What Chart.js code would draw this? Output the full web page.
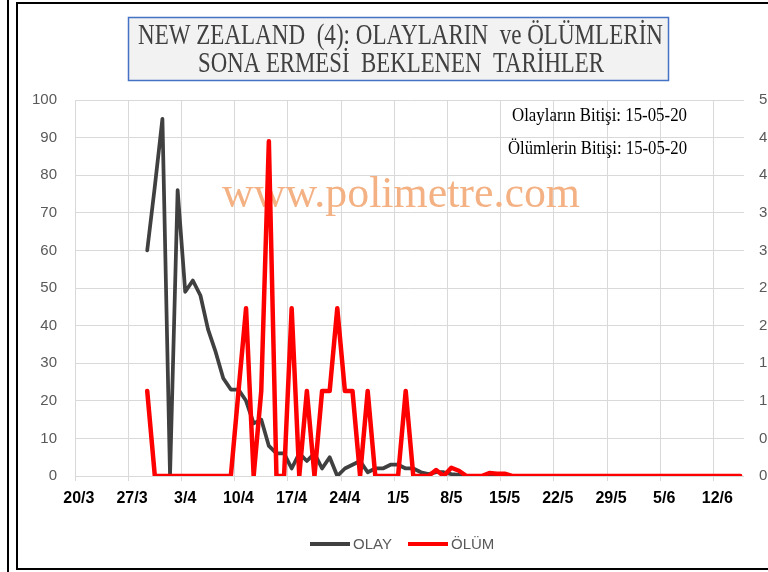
<!DOCTYPE html>
<html><head><meta charset="utf-8">
<script src="https://cdn.jsdelivr.net/npm/chart.js@4.4.1/dist/chart.umd.min.js"></script>
<style>
html,body{margin:0;padding:0;overflow:hidden;background:#fff;width:768px;height:572px}
#wrap{position:absolute;left:0;top:0;width:800px;height:572px}
</style></head><body><div id="wrap"><canvas id="c" width="800" height="572"></canvas></div>
<script>
// ---- DATA ----
const START_DATE = [2020, 2, 20];   // 20/3/2020
const DAY_COUNT = 88;               // 20/3 .. 15/6
const categories = [];
for (let i = 0; i < DAY_COUNT; i++) {
  const d = new Date(Date.UTC(START_DATE[0], START_DATE[1], START_DATE[2] + i));
  categories.push(d.getUTCDate() + '/' + (d.getUTCMonth() + 1));
}
const olay = [null,null,null,null,null,null,null,null,null,
  60,77,95,0,76,49,52,48,39,33,
  26,23,23,20,14,15,8,6,6,2,
  6,4,6,2,5,0,2,3,4,1,
  2,2,3,3,2,2,1,0.5,1,1,
  0.5,0.3,
  0,0,0,0,0,0,0,0,0,0,0,0,0,0,0,0,0,0,0,0,0,0,0,0,0,0,0,0,0,0,0,0,0,0,0,0,0];
const olum = [null,null,null,null,null,null,null,null,null,
  1.13,0,0,0,0,0,0,0,0,0,0,0,
  1.12,2.23,0,1.13,4.45,0,0,2.23,0,1.13,0,1.13,1.13,2.23,1.13,1.13,0,1.13,
  0,0,0,0,1.13,0,0,0,
  0.08,0,0.11,0.07,0,0,0,0.04,0.03,0.03,
  0,0,0,0,0,0,0,0,0,0,0,0,0,0,0,0,0,0,0,0,0,0,0,0,0,0,0,0,0,0,0];
const seriesNames = ['OLAY', 'ÖLÜM'];
const leftAxis = {min: 0, max: 100, step: 10};
const rightAxis = {min: 0, max: 5, step: 0.5};
const TICK_EVERY = 7;
const titleLines = ['NEW ZEALAND  (4): OLAYLARIN  ve ÖLÜMLERİN', 'SONA ERMESİ  BEKLENEN  TARİHLER'];
const notes = ['Olayların Bitişi: 15-05-20', 'Ölümlerin Bitişi: 15-05-20'];
const watermark = 'www.polimetre.com';

// ---- STYLE ----
const GRAY = '#404040', RED = '#ff0000', GRID = '#d9d9d9', TXT = '#595959';
const SANS = '"Liberation Sans", Arial, sans-serif';
const SERIF = '"Liberation Serif", "Times New Roman", serif';

function fitText(ctx, text, cx, baseY, width, font, color) {
  ctx.save();
  ctx.font = font;
  ctx.fillStyle = color;
  ctx.textBaseline = 'alphabetic';
  ctx.textAlign = 'left';
  const w = ctx.measureText(text).width;
  const s = width / w;
  ctx.translate(cx - width / 2, baseY);
  ctx.scale(s, 1);
  ctx.fillText(text, 0, 0);
  ctx.restore();
}

const decor = {
  id: 'decor',
  beforeDatasetsDraw(chart) {
    const ctx = chart.ctx;
    fitText(ctx, watermark, 401, 207, 358, '44px ' + SERIF, '#f4b183');
    fitText(ctx, notes[0], 599.5, 121, 175, '18px ' + SERIF, '#000');
    fitText(ctx, notes[1], 597.5, 154, 179, '18px ' + SERIF, '#000');
  },
  afterDraw(chart) {
    const ctx = chart.ctx;
    ctx.save();
    // title box
    ctx.fillStyle = '#f2f2f2';
    ctx.fillRect(128, 17, 540, 63);
    ctx.strokeStyle = '#4472c4';
    ctx.lineWidth = 1.5;
    ctx.strokeRect(128.5, 17.5, 540, 63);
    ctx.restore();
    fitText(ctx, titleLines[0], 400.5, 44, 525, '30px ' + SERIF, '#404040');
    fitText(ctx, titleLines[1], 401, 72, 406, '30px ' + SERIF, '#404040');
    // legend
    ctx.save();
    ctx.lineWidth = 4;
    ctx.strokeStyle = GRAY;
    ctx.beginPath(); ctx.moveTo(310, 544); ctx.lineTo(350, 544); ctx.stroke();
    ctx.strokeStyle = RED;
    ctx.beginPath(); ctx.moveTo(408, 544); ctx.lineTo(448, 544); ctx.stroke();
    ctx.font = '15px ' + SANS;
    ctx.fillStyle = TXT;
    ctx.textBaseline = 'middle';
    ctx.fillText(seriesNames[0], 353, 545);
    ctx.fillText(seriesNames[1], 451, 545);
    // frame
    ctx.strokeStyle = '#000';
    ctx.lineWidth = 2;
    ctx.beginPath(); ctx.moveTo(8, 0); ctx.lineTo(8, 572); ctx.stroke();
    ctx.strokeRect(17, 3, 800, 566);
    ctx.restore();
  }
};

new Chart(document.getElementById('c'), {
  type: 'line',
  data: {
    labels: categories,
    datasets: [
      {label: seriesNames[0], data: olay, borderColor: GRAY, backgroundColor: GRAY,
       borderWidth: 3.75, pointRadius: 0, tension: 0, yAxisID: 'y', order: 2,
       borderJoinStyle: 'round', borderCapStyle: 'round'},
      {label: seriesNames[1], data: olum, borderColor: RED, backgroundColor: RED,
       borderWidth: 4.5, pointRadius: 0, tension: 0, yAxisID: 'y1', order: 1,
       borderJoinStyle: 'round', borderCapStyle: 'round'}
    ]
  },
  options: {
    responsive: false,
    animation: false,
    devicePixelRatio: 1,
    layout: {padding: {top: 100, left: 0, right: 0, bottom: 0}},
    plugins: {legend: {display: false}, tooltip: {enabled: false}, title: {display: false}},
    scales: {
      x: {
        type: 'category',
        offset: true,
        afterFit(s) { s.height = 96; },
        grid: {
          offset: true,
          drawTicks: true,
          tickLength: 5,
          color: c => (c.index % TICK_EVERY === 0 ? GRID : 'rgba(0,0,0,0)'),
          tickColor: c => (c.index % TICK_EVERY === 0 ? GRID : 'rgba(0,0,0,0)'),
          lineWidth: 1
        },
        border: {display: false},
        ticks: {
          autoSkip: false, maxRotation: 0, minRotation: 0, padding: 8,
          color: '#000', font: {family: SANS, size: 16, weight: 'bold'},
          callback: (v, i) => (i % TICK_EVERY === 0 ? categories[i] : '')
        }
      },
      y: {
        position: 'left',
        min: leftAxis.min, max: leftAxis.max,
        afterFit(s) { s.width = 75; },
        grid: {color: GRID, drawTicks: false, lineWidth: 1},
        border: {display: false},
        ticks: {stepSize: leftAxis.step, padding: 18, color: TXT, font: {family: SANS, size: 15}}
      },
      y1: {
        position: 'right',
        min: rightAxis.min, max: rightAxis.max,
        afterFit(s) { s.width = 56; },
        grid: {drawOnChartArea: false, drawTicks: false},
        border: {display: false},
        ticks: {stepSize: rightAxis.step, padding: 15, color: TXT, font: {family: SANS, size: 15},
                callback: v => String(v).replace('.', ',')}
      }
    }
  },
  plugins: [decor]
});
</script></body></html>
